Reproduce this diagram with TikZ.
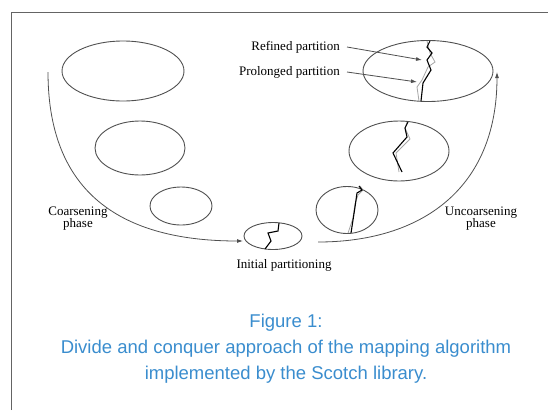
\documentclass[tikz,border=0pt]{standalone}
\usepackage{fontspec}
\setmainfont{Liberation Serif}
\newfontfamily\capfont{Liberation Sans}
\usetikzlibrary{arrows.meta,shapes.geometric}
\definecolor{capblue}{RGB}{58,141,206}
\definecolor{framegray}{RGB}{100,100,100}
\definecolor{edgegray}{RGB}{80,80,80}
\tikzset{
  graph/.style={draw=edgegray, line width=0.9pt, ellipse, inner sep=0pt},
  phasearc/.style={draw=edgegray, line width=0.8pt, -{Latex[length=6pt,width=4pt]}},
  pointer/.style={draw=edgegray, line width=0.8pt, -{Latex[length=6pt,width=4pt]}},
  refined/.style={draw=black, line width=1.1pt, line join=miter},
  prolonged/.style={draw=gray!70, line width=0.8pt},
  lbl/.style={font=\fontsize{13}{12}\selectfont, inner sep=0pt, align=center},
  caption/.style={font=\capfont\fontsize{18.5}{26}\selectfont, text=capblue, align=center, inner sep=0pt}
}
\begin{document}
\begin{tikzpicture}[x=1pt,y=-1pt]
\useasboundingbox (0,0) rectangle (548,410);
% frame
\draw[framegray, line width=1.5pt] (11.5,410) -- (11.5,12.5) -- (548,12.5);

% coarsening graphs
\node[graph, minimum width=122pt, minimum height=60pt] (g1) at (123,71) {};
\node[graph, minimum width=90pt, minimum height=54pt] (g2) at (140,148) {};
\node[graph, minimum width=62pt, minimum height=38pt] (g3) at (181,206) {};
% initial partition
\node[graph, minimum width=58pt, minimum height=27pt] (g0) at (273,236) {};
% uncoarsening graphs
\node[graph, minimum width=62pt, minimum height=47pt] (h3) at (347,210) {};
\node[graph, minimum width=100pt, minimum height=60pt] (h2) at (399,151) {};
\node[graph, minimum width=130pt, minimum height=61pt] (h1) at (428,71) {};

% partition cuts
\draw[refined] (265,249) -- (271,241) -- (268,233) -- (278,231) -- (279,223);

\draw[prolonged] (348,233) -- (353,218) -- (355,204) -- (358,195) -- (363,190) -- (360,186);
\draw[refined] (351,233) -- (355,207) -- (357,193) -- (362,190) -- (359,186);

\draw[prolonged] (399,172) -- (396,153) -- (410,139) -- (405,128) -- (407,122);
\draw[refined] (402,172) -- (393,153) -- (407,137) -- (405,128) -- (408,122);

\draw[prolonged] (419,101) -- (417,87) -- (422,80) -- (428,67) -- (435,62) -- (430,53) -- (427,41);
\draw[refined] (421,101) -- (423,83) -- (431,70) -- (427,60) -- (432,53) -- (427,47) -- (430,41);

% phase arcs
\coordinate (cs) at (48,72);
\coordinate (ce) at (243,241);
\coordinate (us) at (318,242);
\coordinate (ue) at (497,72);
\draw[phasearc] (cs) .. controls (48,200) and (130,241) .. (ce);
\draw[phasearc] (us) .. controls (420,242) and (497,190) .. (ue);

% labels
\node[lbl, anchor=east] (rp) at (340,47) {Refined partition};
\node[lbl, anchor=east] (pp) at (340,72) {Prolonged partition};
\coordinate (rpt) at (422,60);
\coordinate (ppt) at (417,82);
\draw[pointer] (rp.east) ++(7,0) -- (rpt);
\draw[pointer] (pp.east) ++(7,0) -- (ppt);

\node[lbl] (cl) at (78,219) {Coarsening\\phase};
\node[lbl] (ul) at (481,219) {Uncoarsening\\phase};
\node[lbl] (il) at (284,265) {Initial partitioning};

% caption
\node[caption] (cap) at (286,349) {Figure 1:\\Divide and conquer approach of the mapping algorithm\\implemented by the Scotch library.};
\end{tikzpicture}
\end{document}
